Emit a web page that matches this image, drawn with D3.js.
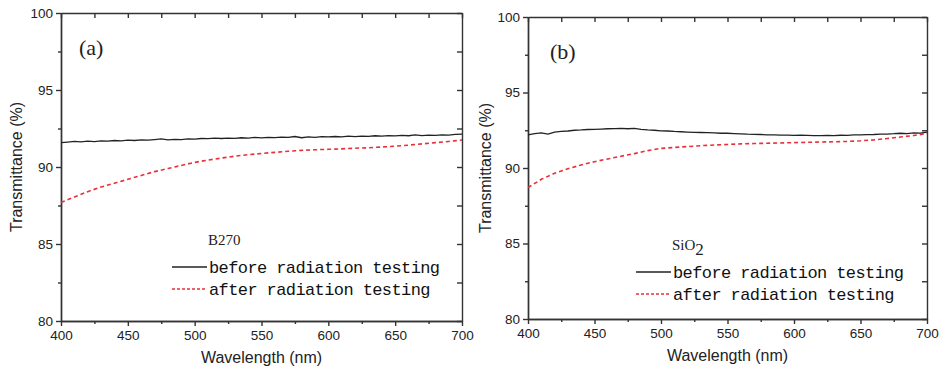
<!DOCTYPE html>
<html>
<head>
<meta charset="utf-8">
<script src="https://cdn.jsdelivr.net/npm/d3@7"></script>
<style>
  body { margin: 0; background: #fff; }
  .axis path, .axis line { stroke: #333; stroke-width: 1.4px; }
  .axis text { font-family: "Liberation Sans", Arial, sans-serif; font-size: 13.5px; fill: #222; }
</style>
</head>
<body>
<svg width="939" height="373"></svg>
<script>
// wavelengths (nm)
var wl5 = d3.range(400, 701, 5),
    wl10 = d3.range(400, 701, 10);

// panel (a) B270
var b270Before = [91.58, 91.62, 91.66, 91.63, 91.68, 91.65, 91.70, 91.68, 91.72, 91.70,
  91.74, 91.72, 91.76, 91.74, 91.78, 91.82, 91.76, 91.80, 91.78, 91.83,
  91.81, 91.85, 91.84, 91.87, 91.85, 91.88, 91.86, 91.90, 91.88, 91.92,
  91.89, 91.93, 91.91, 91.94, 91.92, 91.98, 91.90, 91.95, 91.93, 91.97,
  91.95, 91.98, 91.96, 92.00, 91.97, 92.01, 91.99, 92.03, 92.00, 92.04,
  92.02, 92.05, 92.03, 92.08, 92.04, 92.07, 92.05, 92.09, 92.07, 92.12, 92.14];
var b270After = [87.7, 88.05, 88.4, 88.7, 88.95, 89.2, 89.45, 89.7, 89.9, 90.1,
  90.3, 90.45, 90.58, 90.7, 90.8, 90.88, 90.95, 91.02, 91.08, 91.12,
  91.15, 91.18, 91.22, 91.25, 91.3, 91.35, 91.42, 91.5, 91.58, 91.66, 91.75];

// panel (b) SiO2
var sio2Before = [92.2, 92.28, 92.32, 92.25, 92.38, 92.42, 92.45, 92.5, 92.52, 92.55,
  92.56, 92.58, 92.6, 92.61, 92.62, 92.6, 92.63, 92.56, 92.52, 92.5,
  92.46, 92.45, 92.42, 92.4, 92.38, 92.36, 92.35, 92.34, 92.32, 92.3,
  92.3, 92.28, 92.26, 92.24, 92.23, 92.22, 92.2, 92.2, 92.18, 92.18,
  92.16, 92.17, 92.16, 92.15, 92.14, 92.16, 92.15, 92.17, 92.16, 92.19,
  92.2, 92.21, 92.22, 92.24, 92.25, 92.27, 92.3, 92.28, 92.32, 92.31, 92.38];
var sio2After = [88.7, 89.25, 89.65, 89.95, 90.2, 90.42, 90.6, 90.78, 90.95, 91.15,
  91.3, 91.36, 91.42, 91.48, 91.52, 91.56, 91.6, 91.62, 91.64, 91.66,
  91.68, 91.7, 91.72, 91.74, 91.76, 91.8, 91.86, 91.95, 92.05, 92.15, 92.28];

var xTicks = [400, 450, 500, 550, 600, 650, 700],
    yTicks = [80, 85, 90, 95, 100];
var legendNames = ["before radiation testing", "after radiation testing"];

var svg = d3.select("svg");

function drawPanel(p) {
  var w = p.right - p.left, h = p.bottom - p.top;
  var x = d3.scaleLinear().domain([400, 700]).range([0, w]),
      y = d3.scaleLinear().domain([80, 100]).range([h, 0]);
  var minorX = d3.range(425, 700, 50), minorY = [82.5, 87.5, 92.5, 97.5];

  var g = svg.append("g").attr("transform", "translate(" + p.left + "," + p.top + ")");

  // bottom + left: outward ticks with labels
  g.append("g").attr("class", "axis").attr("transform", "translate(0," + h + ")")
    .call(d3.axisBottom(x).tickValues(xTicks).tickSize(5).tickSizeOuter(0).tickPadding(4));
  g.append("g").attr("class", "axis").attr("transform", "translate(0," + h + ")")
    .call(d3.axisBottom(x).tickValues(minorX).tickSize(3).tickSizeOuter(0).tickFormat(""));
  g.append("g").attr("class", "axis")
    .call(d3.axisLeft(y).tickValues(yTicks).tickSize(5).tickSizeOuter(0).tickPadding(3));
  g.append("g").attr("class", "axis")
    .call(d3.axisLeft(y).tickValues(minorY).tickSize(3).tickSizeOuter(0).tickFormat(""));

  // top + right: inward ticks, no labels
  g.append("g").attr("class", "axis")
    .call(d3.axisTop(x).tickValues(xTicks.concat(minorX)).tickSize(-5).tickSizeOuter(0).tickFormat(""));
  g.append("g").attr("class", "axis").attr("transform", "translate(" + w + ",0)")
    .call(d3.axisRight(y).tickValues(yTicks.concat(minorY)).tickSize(-5).tickSizeOuter(0).tickFormat(""));

  var line = d3.line().x(function (d) { return x(d[0]); }).y(function (d) { return y(d[1]); });

  g.append("path")
    .datum(d3.zip(wl10, p.after))
    .attr("fill", "none").attr("stroke", "#e8303a").attr("stroke-width", 1.6)
    .attr("stroke-dasharray", "4,3")
    .attr("d", line);
  g.append("path")
    .datum(d3.zip(wl5, p.before))
    .attr("fill", "none").attr("stroke", "#222").attr("stroke-width", 1.3)
    .attr("d", line);

  // panel tag
  g.append("text").attr("x", p.tagX).attr("y", 42)
    .style("font-family", "Liberation Serif, serif").style("font-size", "22px").attr("fill", "#222")
    .text(p.tag);

  // sample name
  var nm = g.append("text").attr("x", p.legX + 36).attr("y", p.legY - 22)
    .style("font-family", "Liberation Serif, serif").style("font-size", "15px").attr("fill", "#222");
  nm.append("tspan").text(p.name);
  if (p.sub) nm.append("tspan").attr("dy", 5).style("font-size", "17px").text(p.sub);

  // legend
  var leg = g.append("g").attr("transform", "translate(" + p.legX + "," + p.legY + ")");
  [{ c: "#222", d: null }, { c: "#e8303a", d: "3,2" }].forEach(function (s, i) {
    leg.append("line").attr("x1", 0).attr("x2", 35).attr("y1", i * 22).attr("y2", i * 22)
      .attr("stroke", s.c).attr("stroke-width", 1.3).attr("stroke-dasharray", s.d);
    leg.append("text").attr("x", 37).attr("y", i * 22 + 6)
      .style("font-family", "Liberation Mono, monospace").style("font-size", "17px")
      .style("letter-spacing", "-0.6px").attr("fill", "#111")
      .text(legendNames[i]);
  });

  // axis titles
  g.append("text").attr("x", w / 2).attr("y", h + 42).attr("text-anchor", "middle")
    .style("font-family", "Liberation Sans, Arial, sans-serif").style("font-size", "16px").attr("fill", "#222")
    .text("Wavelength (nm)");
  g.append("text").attr("transform", "rotate(-90)").attr("x", -h / 2).attr("y", p.ylabX)
    .attr("text-anchor", "middle")
    .style("font-family", "Liberation Sans, Arial, sans-serif").style("font-size", "16px").attr("fill", "#222")
    .text("Transmittance (%)");
}

drawPanel({ left: 61, right: 462, top: 13, bottom: 321, before: b270Before, after: b270After,
  tag: "(a)", tagX: 18, name: "B270", sub: null, legX: 111, legY: 254, ylabX: -39 });
drawPanel({ left: 528, right: 927, top: 17, bottom: 319, before: sio2Before, after: sio2After,
  tag: "(b)", tagX: 22, name: "SiO", sub: "2", legX: 108, legY: 255, ylabX: -37 });
</script>
</body>
</html>
